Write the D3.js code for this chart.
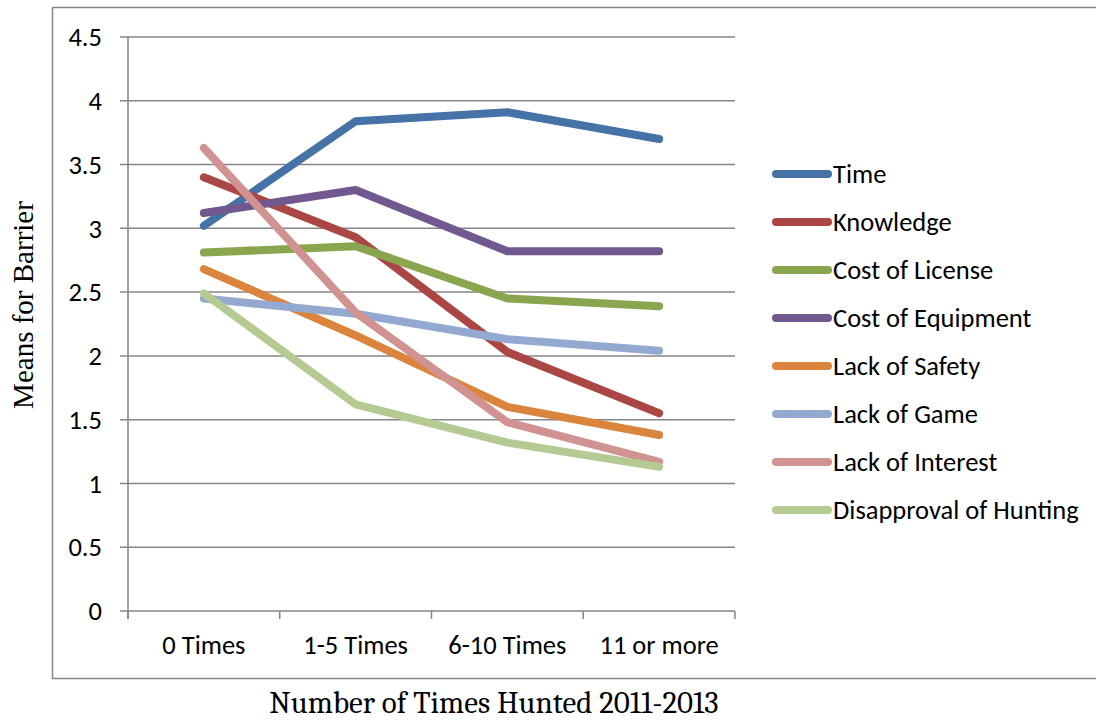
<!DOCTYPE html>
<html>
<head>
<meta charset="utf-8">
<script src="https://cdn.jsdelivr.net/npm/d3@7"></script>
<style>
  body { margin: 0; background: #fff; }
  svg { display: block; }
</style>
</head>
<body>
<div id="vis-container"></div>
<script>
// categories on the x axis
const categories = ["0 Times", "1-5 Times", "6-10 Times", "11 or more"];
// y tick values
const yTicks = [0, 0.5, 1, 1.5, 2, 2.5, 3, 3.5, 4, 4.5];

// series names and values (means for barrier)
const seriesNames = ["Time", "Knowledge", "Cost of License", "Cost of Equipment",
  "Lack of Safety", "Lack of Game", "Lack of Interest", "Disapproval of Hunting"];
const timeVals = [3.02, 3.84, 3.91, 3.70];
const knowledgeVals = [3.40, 2.93, 2.03, 1.55];
const licenseVals = [2.81, 2.86, 2.45, 2.39];
const equipmentVals = [3.12, 3.30, 2.82, 2.82];
const safetyVals = [2.68, 2.16, 1.60, 1.38];
const gameVals = [2.45, 2.33, 2.13, 2.04];
const interestVals = [3.63, 2.34, 1.48, 1.17];
const disapprovalVals = [2.49, 1.62, 1.32, 1.13];
const seriesColors = ["#4572A7", "#AA4643", "#89A54E", "#71588F",
  "#DB843D", "#93A9CF", "#D19392", "#B5CA92"];

const seriesVals = [timeVals, knowledgeVals, licenseVals, equipmentVals,
  safetyVals, gameVals, interestVals, disapprovalVals];
const series = seriesNames.map((name, i) => ({ name, values: seriesVals[i], color: seriesColors[i] }));

const width = 1096;
const height = 722;
const margin = { top: 37, right: 361, bottom: 111, left: 128 };
const sansFont = "Carlito, Calibri, 'Liberation Sans', Arial, sans-serif";
const serifFont = "Cambria, Caladea, 'Liberation Serif', 'DejaVu Serif', serif";
const timesFont = "'Times New Roman', 'Liberation Serif', serif";
const labelSize = "26.5px";

const svg = d3.select("#vis-container")
  .append("svg")
  .attr("width", width)
  .attr("height", height);

// outer chart border
svg.append("rect")
  .attr("x", 52.5).attr("y", 7.5)
  .attr("width", 1050).attr("height", 671)
  .attr("fill", "none")
  .attr("stroke", "#868686")
  .attr("stroke-width", 1.5);

// scales
const x = d3.scaleBand()
  .domain(categories)
  .range([margin.left, width - margin.right]);

const y = d3.scaleLinear()
  .domain([0, 4.5])
  .range([height - margin.bottom, margin.top]);

// gridlines
svg.append("g")
  .selectAll("line")
  .data(yTicks)
  .enter()
  .append("line")
    .attr("x1", margin.left - 8)
    .attr("x2", width - margin.right)
    .attr("y1", (d) => y(d))
    .attr("y2", (d) => y(d))
    .attr("stroke", "#868686")
    .attr("stroke-width", 1.5);

// y axis labels
svg.append("g")
  .selectAll("text")
  .data(yTicks)
  .enter()
  .append("text")
    .attr("x", 102)
    .attr("y", (d) => y(d))
    .attr("dy", "0.35em")
    .attr("text-anchor", "end")
    .attr("font-family", sansFont)
    .attr("font-size", labelSize)
    .attr("fill", "#000")
    .text((d) => d);

// y axis line
svg.append("line")
  .attr("x1", margin.left).attr("x2", margin.left)
  .attr("y1", y(4.5)).attr("y2", y(0) + 8)
  .attr("stroke", "#868686")
  .attr("stroke-width", 1.5);

// x tick marks at category boundaries
const boundaries = categories.map((c) => x(c)).concat([x(categories[categories.length - 1]) + x.bandwidth()]);
svg.append("g")
  .selectAll("line")
  .data(boundaries)
  .enter()
  .append("line")
    .attr("x1", (d) => d).attr("x2", (d) => d)
    .attr("y1", y(0)).attr("y2", y(0) + 8)
    .attr("stroke", "#868686")
    .attr("stroke-width", 1.5);

// x labels
svg.append("g")
  .selectAll("text")
  .data(categories)
  .enter()
  .append("text")
    .attr("x", (d) => x(d) + x.bandwidth() / 2)
    .attr("y", y(0) + 34)
    .attr("dy", "0.35em")
    .attr("text-anchor", "middle")
    .attr("font-family", sansFont)
    .attr("font-size", labelSize)
    .attr("fill", "#000")
    .text((d) => d);

// lines
const line = d3.line()
  .x((d, i) => x(categories[i]) + x.bandwidth() / 2)
  .y((d) => y(d));

svg.append("g")
  .selectAll("path")
  .data(series)
  .enter()
  .append("path")
    .attr("d", (d) => line(d.values))
    .attr("fill", "none")
    .attr("stroke", (d) => d.color)
    .attr("stroke-width", 8)
    .attr("stroke-linecap", "round")
    .attr("stroke-linejoin", "round");

// legend
const legend = svg.append("g")
  .selectAll("g")
  .data(series)
  .enter()
  .append("g")
    .attr("transform", (d, i) => `translate(776, ${174 + i * 48})`);

legend.append("line")
  .attr("x1", 0).attr("x2", 52)
  .attr("stroke", (d) => d.color)
  .attr("stroke-width", 8)
  .attr("stroke-linecap", "round");

legend.append("text")
  .attr("x", 57)
  .attr("dy", "0.35em")
  .attr("font-family", sansFont)
  .attr("font-size", labelSize)
  .attr("fill", "#000")
  .text((d) => d.name);

// axis titles
svg.append("text")
  .attr("transform", `translate(33, 305) rotate(-90)`)
  .attr("text-anchor", "middle")
  .attr("font-family", timesFont)
  .attr("font-size", "29px")
  .attr("fill", "#000")
  .text("Means for Barrier");

svg.append("text")
  .attr("x", 494)
  .attr("y", 713)
  .attr("text-anchor", "middle")
  .attr("font-family", serifFont)
  .attr("font-size", "31px")
  .attr("fill", "#000")
  .text("Number of Times Hunted 2011-2013");
</script>
</body>
</html>
